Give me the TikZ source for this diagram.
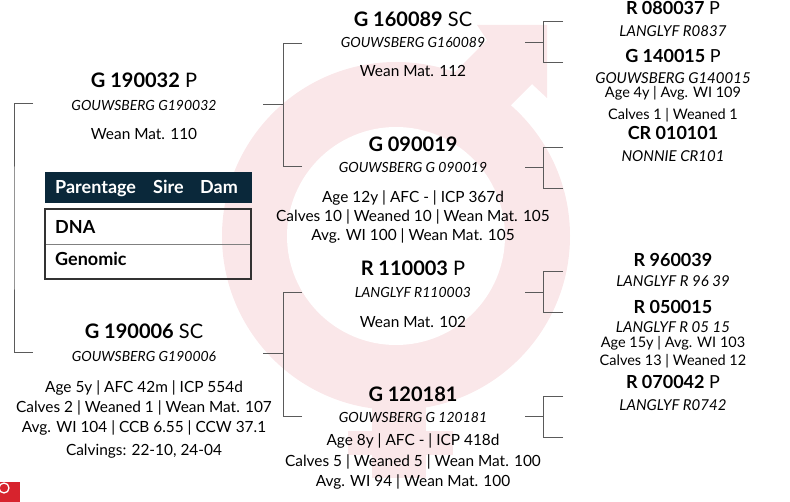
\documentclass[tikz,border=0pt]{standalone}
\usepackage{fontspec}
\setmainfont{Lato}
\usepackage{xcolor}
\definecolor{bgpink}{RGB}{250,231,233}
\definecolor{navy}{RGB}{10,40,58}
\definecolor{linegray}{RGB}{90,90,90}
\definecolor{boxgray}{RGB}{50,50,50}
\definecolor{logored}{RGB}{215,35,45}
\usetikzlibrary{positioning}
\tikzset{
    animal/.style={
    anchor=base,inner sep=0pt,font=\fontsize{20}{23}\selectfont
    },
    animalsm/.style={
    anchor=base,inner sep=0pt,font=\fontsize{18}{21}\selectfont
    },
    regno/.style={
    anchor=base,inner sep=0pt,font=\fontsize{14}{16}\selectfont\itshape
    },
    regnosm/.style={
    anchor=base,inner sep=0pt,font=\fontsize{15}{17}\selectfont\itshape
    },
    stats/.style={
    anchor=base,inner sep=0pt,font=\fontsize{15.4}{18}\selectfont
    },
    statsm/.style={
    anchor=base,inner sep=0pt,font=\fontsize{14.5}{17}\selectfont
    },
    bracket/.style={draw=linegray, line width=0.8pt},
    hdrtext/.style={anchor=base west, inner sep=0pt, text=white, font=\fontsize{18}{21}\selectfont\bfseries},
    celltext/.style={anchor=base west, inner sep=0pt, font=\fontsize{18}{21}\selectfont\bfseries},
    row/.style={rectangle, draw=gray, anchor=north west, minimum width=206pt, minimum height=35pt, inner sep=0pt},
}

\begin{document}
\begin{tikzpicture}[x=1pt, y=-1pt]
   \useasboundingbox (0,0) rectangle (790,502);

   % background symbol
   \fill[bgpink] (396,236) circle (174pt);
   \fill[bgpink] (477,25) -- (547,25) -- (547,98) -- (532,84) -- (442,174)
                 -- (397,130) -- (487,40) -- cycle;
   \fill[bgpink] (372,380) rectangle (426,478);
   \fill[bgpink] (348,431) rectangle (453,455);
   \fill[white] (396,236) circle (109pt);

   % logo corner
   \begin{scope}
     \clip (0,482) rectangle (20,502);
     \fill[logored] (0,482) rectangle (20,502);
     \draw[white, line width=1.3pt] (4,488) circle (5pt);
   \end{scope}

   % left column
   \node[animal] (g190032)  at (144,88)  {\textbf{G 190032} P};
   \node[regno]  (g190032r) at (144,111) {GOUWSBERG G190032};
   \node[stats]  (g190032w) at (144,140) {Wean Mat. 110};

   \node[animal] (g190006)  at (144,339) {\textbf{G 190006} SC};
   \node[regno]  (g190006r) at (144,362) {GOUWSBERG G190006};
   \node[stats]  (g190006a) at (144,393) {Age 5y | AFC 42m | ICP 554d};
   \node[stats]  (g190006b) at (144,413) {Calves 2 | Weaned 1 | Wean Mat. 107};
   \node[stats]  (g190006c) at (144,433) {Avg. WI 104 | CCB 6.55 | CCW 37.1};
   \node[stats]  (g190006d) at (144,455) {Calvings: 22-10, 24-04};

   % parentage table
   \node[fill=navy, anchor=north west, minimum width=207pt, minimum height=31pt, inner sep=0pt] (hdr) at (45,172) {};
   \node[hdrtext] (hparent) at (55,194)  {Parentage};
   \node[hdrtext] (hsire)   at (153,194) {Sire};
   \node[hdrtext] (hdam)    at (200,194) {Dam};
   \node[row] (dnarow) at (45,209) {};
   \node[row] (genrow) at (45,244) {};
   \draw[draw=boxgray, line width=2pt] (dnarow.north west) rectangle (genrow.south east);
   \node[celltext] (dna) at (55,234) {DNA};
   \node[celltext] (gen) at (55,266) {Genomic};

   % middle column
   \node[animal] (g160089)  at (413,27) {\textbf{G 160089} SC};
   \node[regno]  (g160089r) at (413,48) {GOUWSBERG G160089};
   \node[stats]  (g160089w) at (413,77) {Wean Mat. 112};

   \node[animal] (g090019)  at (413,152) {\textbf{G 090019}};
   \node[regno]  (g090019r) at (413,173) {GOUWSBERG G 090019};
   \node[stats]  (g090019a) at (413,203) {Age 12y | AFC - | ICP 367d};
   \node[stats]  (g090019b) at (413,222) {Calves 10 | Weaned 10 | Wean Mat. 105};
   \node[stats]  (g090019c) at (413,241) {Avg. WI 100 | Wean Mat. 105};

   \node[animal] (r110003)  at (413,276) {\textbf{R 110003} P};
   \node[regno]  (r110003r) at (413,298) {LANGLYF R110003};
   \node[stats]  (r110003w) at (413,328) {Wean Mat. 102};

   \node[animal] (g120181)  at (413,402) {\textbf{G 120181}};
   \node[regno]  (g120181r) at (413,423) {GOUWSBERG G 120181};
   \node[stats]  (g120181a) at (413,446) {Age 8y | AFC - | ICP 418d};
   \node[stats]  (g120181b) at (413,466) {Calves 5 | Weaned 5 | Wean Mat. 100};
   \node[stats]  (g120181c) at (413,486) {Avg. WI 94 | Wean Mat. 100};

   % right column
   \node[animalsm] (r080037)  at (673,15)  {\textbf{R 080037} P};
   \node[regnosm]  (r080037r) at (673,37)  {LANGLYF R0837};
   \node[animalsm] (g140015)  at (673,63)  {\textbf{G 140015} P};
   \node[regnosm]  (g140015r) at (673,84)  {GOUWSBERG G140015};
   \node[statsm]   (g140015a) at (673,98)  {Age 4y | Avg. WI 109};
   \node[statsm]   (g140015b) at (673,120) {Calves 1 | Weaned 1};
   \node[animalsm] (cr010101) at (673,140) {\textbf{CR 010101}};
   \node[regnosm]  (cr010101r) at (673,162) {NONNIE CR101};

   \node[animalsm] (r960039)  at (673,267) {\textbf{R 960039}};
   \node[regnosm]  (r960039r) at (673,287) {LANGLYF R 96 39};
   \node[animalsm] (r050015)  at (673,314) {\textbf{R 050015}};
   \node[regnosm]  (r050015r) at (673,333) {LANGLYF R 05 15};
   \node[statsm]   (r050015a) at (673,348) {Age 15y | Avg. WI 103};
   \node[statsm]   (r050015b) at (673,366) {Calves 13 | Weaned 12};
   \node[animalsm] (r070042)  at (673,389) {\textbf{R 070042} P};
   \node[regnosm]  (r070042r) at (673,410) {LANGLYF R0742};

   % brackets
   \coordinate (lt) at (33,103);
   \coordinate (lb) at (33,352);
   \coordinate (lj) at (14,228);
   \draw[bracket] (lt) -| (lj) |- (lb);

   \coordinate (s1) at (263,104);  \coordinate (j1) at (283,104);
   \coordinate (t1) at (302,43);   \coordinate (b1) at (302,166);
   \coordinate (s2) at (263,353);  \coordinate (j2) at (283,353);
   \coordinate (t2) at (302,292);  \coordinate (b2) at (302,416);
   \draw[bracket] (s1) -- (j1) (t1) -| (j1) (b1) -| (j1);
   \draw[bracket] (s2) -- (j2) (t2) -| (j2) (b2) -| (j2);

   \coordinate (s3) at (525,42);   \coordinate (j3) at (543,42);
   \coordinate (t3) at (563,21);   \coordinate (b3) at (563,62);
   \coordinate (s4) at (525,167);  \coordinate (j4) at (543,167);
   \coordinate (t4) at (563,147);  \coordinate (b4) at (563,188);
   \coordinate (s5) at (525,292);  \coordinate (j5) at (543,292);
   \coordinate (t5) at (563,271);  \coordinate (b5) at (563,312);
   \coordinate (s6) at (525,416);  \coordinate (j6) at (543,416);
   \coordinate (t6) at (563,396);  \coordinate (b6) at (563,437);
   \draw[bracket] (s3) -- (j3) (t3) -| (j3) (b3) -| (j3);
   \draw[bracket] (s4) -- (j4) (t4) -| (j4) (b4) -| (j4);
   \draw[bracket] (s5) -- (j5) (t5) -| (j5) (b5) -| (j5);
   \draw[bracket] (s6) -- (j6) (t6) -| (j6) (b6) -| (j6);
\end{tikzpicture}
\end{document}
